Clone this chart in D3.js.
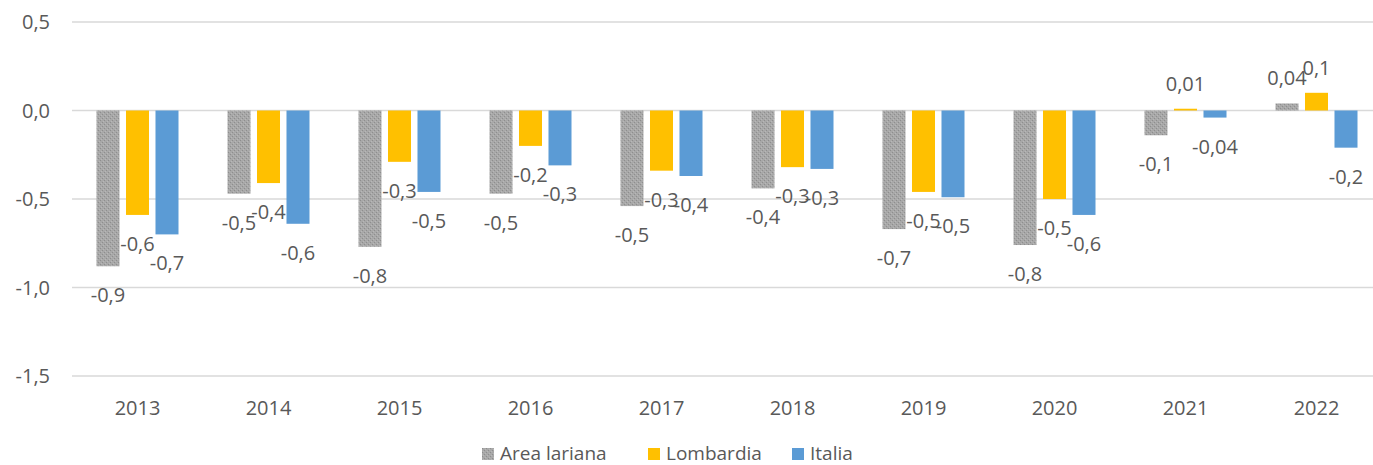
<!DOCTYPE html>
<head>
<meta charset="utf-8">
<style>
body { margin: 0; background: #fff; }
svg { display: block; font-family: "Open Sans", "Liberation Sans", sans-serif; }
.grid line { stroke: #d9d9d9; stroke-width: 1.5px; }
.lbl, .tick-y, .tick-x, .leg { fill: #595959; }
</style>
</head>
<body>
<svg width="1373" height="465"></svg>
<script src="https://cdn.jsdelivr.net/npm/d3@7"></script>
<script>
// dati
var anni = ["2013","2014","2015","2016","2017","2018","2019","2020","2021","2022"];
var serie = ["Area lariana","Lombardia","Italia"];
var areaLariana = [-0.88,-0.47,-0.77,-0.47,-0.54,-0.44,-0.67,-0.76,-0.14,0.04];
var lombardia   = [-0.59,-0.41,-0.29,-0.20,-0.34,-0.32,-0.46,-0.50,0.01,0.10];
var italia      = [-0.70,-0.64,-0.46,-0.31,-0.37,-0.33,-0.49,-0.59,-0.04,-0.21];
var etAreaLariana = ["-0,9","-0,5","-0,8","-0,5","-0,5","-0,4","-0,7","-0,8","-0,1","0,04"];
var etLombardia   = ["-0,6","-0,4","-0,3","-0,2","-0,3","-0,3","-0,5","-0,5","0,01","0,1"];
var etItalia      = ["-0,7","-0,6","-0,5","-0,3","-0,4","-0,3","-0,5","-0,6","-0,04","-0,2"];
var yTicks = [0.5, 0, -0.5, -1.0, -1.5];

var valori = [areaLariana, lombardia, italia];
var etichette = [etAreaLariana, etLombardia, etItalia];
var colori = ["url(#grana)", "#ffc000", "#5b9bd5"];

var svg = d3.select("svg");

// trama grigia per "Area lariana"
var pat = svg.append("defs").append("pattern")
    .attr("id", "grana").attr("width", 4).attr("height", 4)
    .attr("patternUnits", "userSpaceOnUse");
pat.append("rect").attr("width", 4).attr("height", 4).attr("fill", "#a8a8a8");
pat.append("rect").attr("x", 0).attr("y", 0).attr("width", 1).attr("height", 1).attr("fill", "#8e8e8e");
pat.append("rect").attr("x", 2).attr("y", 2).attr("width", 1).attr("height", 1).attr("fill", "#8e8e8e");
pat.append("rect").attr("x", 1).attr("y", 3).attr("width", 1).attr("height", 1).attr("fill", "#b8b8b8");
pat.append("rect").attr("x", 3).attr("y", 1).attr("width", 1).attr("height", 1).attr("fill", "#b8b8b8");

var x = d3.scaleBand().domain(anni).range([72, 72 + 131 * anni.length]);
var xs = d3.scaleBand().domain(d3.range(serie.length)).range([24.5, 106.5]).paddingInner(0.22);
var y = d3.scaleLinear().domain([-1.5, 0.5]).range([376, 22]);

// griglia
svg.append("g").attr("class", "grid")
  .selectAll("line").data(yTicks).enter().append("line")
    .attr("x1", 72).attr("x2", 1373)
    .attr("y1", function(d) { return y(d); })
    .attr("y2", function(d) { return y(d); });

// etichette asse y
svg.append("g").selectAll("text").data(yTicks).enter().append("text")
    .attr("class", "tick-y")
    .attr("x", 50).attr("y", function(d) { return y(d) + 7; })
    .attr("text-anchor", "end").attr("font-size", 20)
    .text(function(d) { return d3.format(".1f")(d).replace(".", ",").replace("−", "-"); });

// etichette asse x
svg.append("g").selectAll("text").data(anni).enter().append("text")
    .attr("class", "tick-x")
    .attr("x", function(d) { return x(d) + x.bandwidth() / 2; })
    .attr("y", 415)
    .attr("text-anchor", "middle").attr("font-size", 20)
    .text(function(d) { return d; });

// barre
serie.forEach(function(s, si) {
  var g = svg.append("g");
  var dati = anni.map(function(a, i) { return { anno: a, v: valori[si][i], t: etichette[si][i] }; });
  g.selectAll("rect").data(dati).enter().append("rect")
    .attr("x", function(d) { return x(d.anno) + xs(si); })
    .attr("width", xs.bandwidth())
    .attr("y", function(d) { return Math.min(y(d.v), y(0)); })
    .attr("height", function(d) { return Math.abs(y(d.v) - y(0)); })
    .attr("fill", colori[si]);
  g.selectAll("text").data(dati).enter().append("text")
    .attr("class", "lbl")
    .attr("x", function(d) { return x(d.anno) + xs(si) + xs.bandwidth() / 2; })
    .attr("y", function(d) { return d.v < 0 ? y(d.v) + 36 : y(d.v) - 18; })
    .attr("text-anchor", "middle").attr("font-size", 20)
    .text(function(d) { return d.t; });
});

// legenda
var legX = [482, 648, 792];
var leg = svg.append("g").selectAll("g").data(serie).enter().append("g")
    .attr("transform", function(d, i) { return "translate(" + legX[i] + ",448)"; });
leg.append("rect").attr("width", 12).attr("height", 12)
    .attr("fill", function(d, i) { return colori[i]; });
leg.append("text").attr("class", "leg")
    .attr("x", 18).attr("y", 12).attr("font-size", 19)
    .text(function(d) { return d; });
</script>
